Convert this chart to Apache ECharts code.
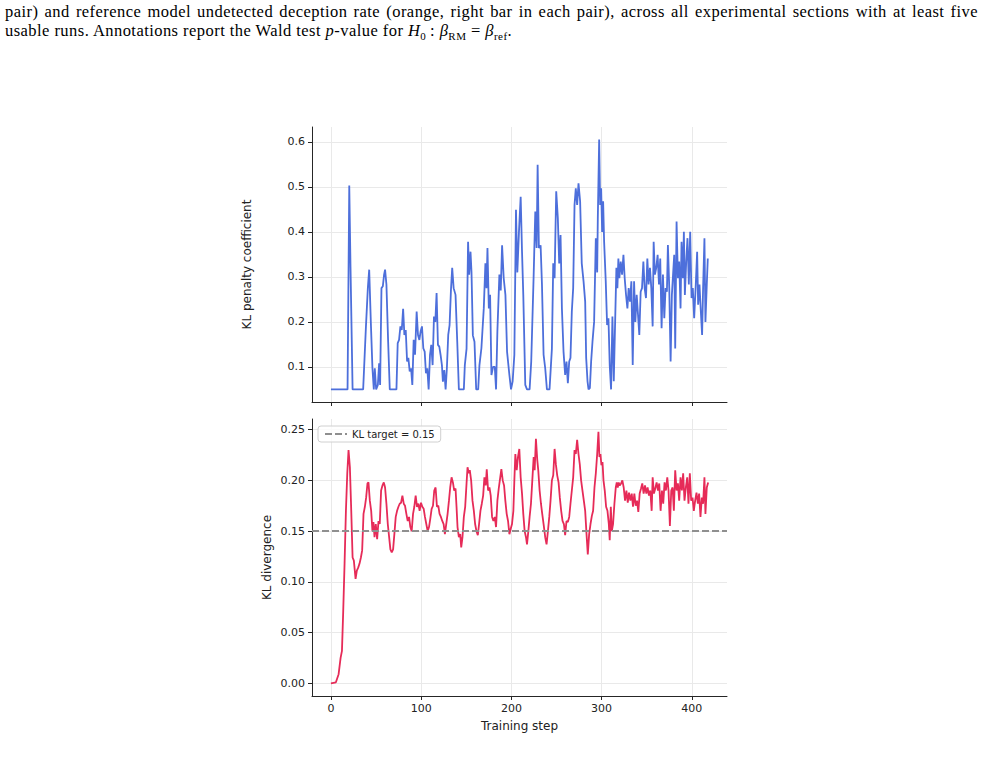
<!DOCTYPE html>
<html>
<head>
<meta charset="utf-8">
<script src="https://cdn.jsdelivr.net/npm/echarts@6/dist/echarts.min.js"></script>
<style>
  html, body { margin: 0; padding: 0; background: #fff; }
  #wrap { position: relative; width: 985px; height: 760px; overflow: hidden; }
  #chart { position: absolute; left: 0; top: 0; width: 985px; height: 760px; }
  #caption {
    position: absolute; left: 5px; top: 3px; width: 973px;
    font-family: "Liberation Serif", serif; font-size: 16.5px; line-height: 18.5px;
    letter-spacing: 0.45px; color: #000;
  }
  #caption .l1 { text-align: justify; text-align-last: justify; white-space: nowrap; }
  #caption sub { font-size: 11px; line-height: 0; }
</style>
</head>
<body>
<div id="wrap">
  <div id="chart"></div>
  <div id="caption">
    <div class="l1">pair) and reference model undetected deception rate (orange, right bar in each pair), across all experimental sections with at least five</div>
    <div>usable runs. Annotations report the Wald test <i>p</i>-value for <i>H</i><sub>0</sub>&thinsp;: <i>β</i><sub>RM</sub> = <i>β</i><sub>ref</sub>.</div>
  </div>
</div>
<script>
// KL penalty coefficient (top panel)
var coefStep = [0,18.4,20.3,21.7,24,35.7,38.7,40.9,42.4,44.2,46,47.5,48.6,50.1,52,53.4,54.5,56,57.5,58.9,60,61.5,63.4,65.2,72.6,74,75.5,77,78.5,80,81.4,82.9,84.4,85.8,87.3,88.8,90.2,91.7,93.2,95,96.5,98,99.4,100.9,102.4,103.9,105.3,106.8,108.3,109.8,111.2,112.7,114.2,115.7,117.1,118.6,120.1,121.5,123,124.1,125.6,127.1,128.5,130,131.5,133,134.4,136,138.1,140,141.8,147.3,148.4,150.3,152,153.2,154.7,155.8,157.3,159.1,161,163.2,164.6,166.8,169.4,171.2,172.4,173.5,175,176.4,177.9,179.7,181.6,183,184.5,186.7,188.2,189.7,191.5,193.4,195.2,197.8,199.6,201.4,203.3,205.1,206.6,208.4,210.3,211.8,213.2,215.4,217.3,220.2,222,224.6,226.5,228,229.1,230.5,232.4,233.9,235.7,237.5,239.4,242.3,244.9,246.4,247.9,249.7,251.5,253,254.5,256,257.8,259.6,261.1,262.6,264.1,265.5,267,268.5,270,271.4,272.9,274.4,276.2,278,280,281.8,282.9,284.4,285.5,287,288.4,289.9,291.7,293.6,295.1,295.8,297.3,298.4,299.5,300.6,301.7,302.8,304.6,306.1,307.6,309,310.5,312,313.5,315,316.4,317.5,318.6,319.7,321.2,322.7,324.2,325.6,327.1,328.6,330,331.5,333,334.5,336,337.4,338.9,340.4,341.8,343.3,344.8,346.3,347.7,349.2,350.7,352.1,353.6,355.1,356.6,357.7,359.1,360.6,362.1,363.6,365,366.5,368,369.5,370.9,372.4,373.5,375,376.5,377.9,379.4,380.5,381.6,383.1,384.6,386,387.5,388.6,390.1,391.2,392.3,393.8,395.2,396.7,398.2,399.7,401.1,402.6,404.4,405.9,407,408.5,410,411.4,412.5,414,415.1,416.6,417.7];
var coefValue = [0.05,0.05,0.503,0.32,0.05,0.05,0.186,0.275,0.316,0.2,0.097,0.05,0.097,0.05,0.06,0.108,0.06,0.275,0.279,0.305,0.316,0.283,0.156,0.05,0.05,0.153,0.16,0.19,0.182,0.229,0.171,0.182,0.112,0.12,0.09,0.097,0.06,0.16,0.127,0.223,0.171,0.16,0.179,0.19,0.141,0.134,0.086,0.097,0.05,0.127,0.149,0.104,0.212,0.2,0.264,0.149,0.145,0.127,0.104,0.067,0.093,0.05,0.097,0.171,0.193,0.27,0.32,0.275,0.26,0.156,0.05,0.05,0.104,0.14,0.378,0.305,0.356,0.31,0.17,0.156,0.05,0.05,0.104,0.142,0.23,0.33,0.275,0.364,0.23,0.26,0.082,0.1,0.1,0.05,0.18,0.305,0.27,0.37,0.297,0.26,0.134,0.082,0.05,0.068,0.127,0.449,0.31,0.4,0.478,0.356,0.26,0.06,0.05,0.05,0.112,0.297,0.445,0.364,0.549,0.364,0.37,0.283,0.127,0.097,0.05,0.05,0.14,0.33,0.297,0.49,0.43,0.33,0.393,0.23,0.134,0.082,0.112,0.064,0.112,0.12,0.223,0.275,0.46,0.497,0.46,0.508,0.468,0.33,0.29,0.245,0.12,0.068,0.05,0.053,0.112,0.156,0.2,0.386,0.31,0.43,0.605,0.46,0.497,0.4,0.468,0.378,0.29,0.193,0.208,0.104,0.05,0.212,0.068,0.2,0.32,0.275,0.341,0.297,0.334,0.305,0.349,0.297,0.26,0.23,0.275,0.245,0.29,0.104,0.29,0.2,0.26,0.215,0.171,0.267,0.275,0.334,0.275,0.253,0.341,0.283,0.32,0.275,0.19,0.378,0.305,0.32,0.349,0.283,0.341,0.186,0.305,0.208,0.275,0.267,0.371,0.275,0.112,0.26,0.312,0.349,0.141,0.423,0.297,0.334,0.23,0.378,0.297,0.4,0.26,0.334,0.386,0.283,0.4,0.253,0.275,0.208,0.283,0.356,0.238,0.283,0.223,0.171,0.275,0.386,0.2,0.283,0.341];

// KL divergence (bottom panel)
var divStep = [0,5.5,8.5,10.7,12.2,13.6,15.1,16.6,18.1,19.5,21,22.5,24,25.4,27.3,28.7,30.2,31.7,33.2,34.6,36.1,37.6,39,40.5,41.6,43.1,44.6,46,47.1,48.3,49.7,51.2,52.7,54.1,55.6,57.1,58.6,60,61.5,63,64.5,65.9,67.4,68.9,70.3,71.8,73.3,74.8,76.2,77.7,79.2,80.7,82.1,83.6,85.1,86.6,88,89.5,91,92.4,93.9,95.4,96.9,98.3,99.8,101.3,102.8,104.2,105.7,107.2,108.7,110.1,111.6,113.1,114.5,116,117.5,119,120.4,121.9,123.4,124.9,126.3,127.8,129.3,130.8,132.2,133.7,135.2,136.6,138.1,139.2,140.3,141.8,143.3,144.4,145.8,147.3,148.8,150.3,151.4,152.8,153.9,155.4,156.9,158.4,159.8,161.3,162.8,164.2,165.7,167.2,168.7,170.1,171.6,172.7,174.2,175.7,177.1,178.6,180.1,181.6,183,184.5,186,187.5,188.9,190.4,191.9,193.3,194.8,196.3,197.8,199.2,200.7,202.2,203.3,204.4,205.9,207.3,208.8,210.3,211.8,213.2,214.7,216.2,217.3,218.8,220.2,221.7,223.2,224.7,225.8,227.2,228.7,229.8,231.3,232.8,234.2,235.7,237.5,239,240.5,242,243.4,244.9,246.4,247.9,249.3,250.8,252.3,253.7,255.2,256.7,258.2,259.6,261.1,262.6,264.1,265.5,267,268.5,270,271.4,272.9,274.4,275.8,277.3,278.8,280.3,281.8,283.3,284.7,286.2,287.7,289.2,290.6,292.1,293.6,295.1,296.5,297.6,298.7,299.8,301,302.1,303.5,305,306.5,308,309,310.2,311.3,312.7,314.2,315.7,316.8,317.9,319,320.1,321.6,323,324.5,326,327.5,329,330.4,331.9,333.4,334.8,336.3,337.8,339.3,340.7,342.2,343.7,345.1,346.6,348.1,349.6,351,352.5,354,355.5,356.6,358,359.5,361,362.5,363.9,365.4,366.9,368.3,369.8,371.3,372.8,374.2,375.7,377.2,378.7,380.1,381.6,383.1,384.6,386,387.5,389,390.4,391.9,393.4,394.9,396.3,397.8,399.3,400.8,402.2,403.7,405.2,406.7,408.1,409.6,411.1,412.5,414,415.1,416.6,418.1];
var divValue = [0,0.001,0.009,0.025,0.032,0.071,0.118,0.17,0.207,0.23,0.213,0.17,0.124,0.121,0.103,0.111,0.114,0.118,0.124,0.131,0.167,0.174,0.183,0.197,0.198,0.18,0.17,0.15,0.159,0.144,0.157,0.142,0.16,0.157,0.19,0.195,0.198,0.193,0.177,0.157,0.144,0.132,0.129,0.132,0.147,0.164,0.17,0.174,0.177,0.178,0.185,0.177,0.175,0.167,0.16,0.164,0.154,0.15,0.167,0.174,0.185,0.174,0.177,0.17,0.178,0.174,0.172,0.164,0.157,0.15,0.154,0.162,0.172,0.175,0.19,0.193,0.174,0.175,0.167,0.164,0.16,0.157,0.147,0.157,0.167,0.18,0.193,0.203,0.198,0.19,0.192,0.174,0.154,0.144,0.147,0.134,0.144,0.164,0.174,0.197,0.213,0.207,0.21,0.2,0.18,0.17,0.157,0.15,0.146,0.157,0.17,0.177,0.185,0.203,0.195,0.211,0.19,0.193,0.185,0.164,0.16,0.164,0.154,0.18,0.192,0.202,0.211,0.2,0.195,0.18,0.167,0.16,0.147,0.152,0.157,0.17,0.2,0.226,0.21,0.223,0.231,0.203,0.187,0.167,0.15,0.144,0.137,0.15,0.164,0.177,0.2,0.223,0.21,0.241,0.22,0.21,0.19,0.177,0.167,0.157,0.144,0.137,0.15,0.164,0.18,0.2,0.205,0.231,0.216,0.205,0.198,0.183,0.17,0.16,0.157,0.146,0.16,0.159,0.164,0.177,0.19,0.203,0.23,0.226,0.24,0.226,0.216,0.2,0.19,0.18,0.17,0.147,0.127,0.147,0.157,0.165,0.17,0.193,0.207,0.226,0.248,0.223,0.226,0.215,0.218,0.2,0.19,0.174,0.17,0.157,0.141,0.174,0.15,0.157,0.177,0.193,0.198,0.193,0.198,0.195,0.197,0.2,0.193,0.18,0.19,0.178,0.188,0.18,0.187,0.174,0.187,0.175,0.18,0.169,0.187,0.192,0.197,0.187,0.195,0.187,0.193,0.185,0.19,0.17,0.203,0.187,0.192,0.198,0.19,0.197,0.17,0.19,0.177,0.198,0.19,0.203,0.19,0.155,0.19,0.193,0.17,0.21,0.19,0.197,0.18,0.203,0.19,0.207,0.18,0.193,0.203,0.177,0.207,0.18,0.183,0.17,0.18,0.188,0.177,0.187,0.164,0.183,0.177,0.203,0.167,0.193,0.198];

var klTarget = 0.15;
var stepTicks = [0, 100, 200, 300, 400];
var coefTicks = [0.1, 0.2, 0.3, 0.4, 0.5, 0.6];
var divTicks = [0, 0.05, 0.1, 0.15, 0.2, 0.25];

function zip(xs, ys){
	return xs.map(function(x, i){ return [x, ys[i]]; });
}

var AXIS_COLOR = '#262626';
var GRID_COLOR = '#e9e9e9';

function xAxisCfg(gridIndex, showLabels){
	return {
		type: 'value',
		gridIndex: gridIndex,
		min: -21,
		max: 439,
		axisLine: { show: true, onZero: false, lineStyle: { color: AXIS_COLOR, width: 1 } },
		axisTick: { show: true, length: 4, customValues: stepTicks, lineStyle: { color: AXIS_COLOR } },
		axisLabel: {
			show: showLabels,
			customValues: stepTicks,
			color: '#222',
			fontSize: 11,
			fontFamily: 'DejaVu Sans',
			margin: 7
		},
		splitLine: { show: true, lineStyle: { color: GRID_COLOR, width: 1 } },
		name: showLabels ? 'Training step' : '',
		nameLocation: 'middle',
		nameGap: 24,
		nameTextStyle: { color: '#222', fontSize: 12, fontFamily: 'DejaVu Sans' }
	};
}

function yAxisCfg(gridIndex, min, max, ticks, name, gap){
	return {
		type: 'value',
		gridIndex: gridIndex,
		min: min,
		max: max,
		axisLine: { show: true, onZero: false, lineStyle: { color: AXIS_COLOR, width: 1 } },
		axisTick: { show: true, length: 4, customValues: ticks, lineStyle: { color: AXIS_COLOR } },
		axisLabel: {
			customValues: ticks,
			color: '#222',
			fontSize: 11,
			fontFamily: 'DejaVu Sans',
			margin: 7,
			formatter: function(v){ return v.toFixed(gridIndex === 0 ? 1 : 2); }
		},
		splitLine: { show: true, lineStyle: { color: GRID_COLOR, width: 1 } },
		name: name,
		nameLocation: 'middle',
		nameGap: gap,
		nameTextStyle: { color: '#222', fontSize: 12, fontFamily: 'DejaVu Sans' }
	};
}

var myChart = echarts.init(document.getElementById('chart'), null, { renderer: 'svg' });
myChart.setOption({
	animation: false,
	backgroundColor: '#fff',
	grid: [
		{ left: 312, top: 127, width: 415, height: 275 },
		{ left: 312, top: 419, width: 415, height: 277 }
	],
	legend: {
		data: ['KL target = 0.15'],
		left: 318,
		top: 426,
		itemWidth: 22,
		itemHeight: 10,
		itemGap: 6,
		padding: [3, 6],
		borderColor: '#d0d0d0',
		borderWidth: 1,
		borderRadius: 3,
		backgroundColor: 'rgba(255,255,255,0.8)',
		itemStyle: { opacity: 0 },
		textStyle: { color: '#222', fontSize: 10, fontFamily: 'DejaVu Sans' }
	},
	xAxis: [ xAxisCfg(0, false), xAxisCfg(1, true) ],
	yAxis: [
		yAxisCfg(0, 0.022, 0.633, coefTicks, 'KL penalty coefficient', 59),
		yAxisCfg(1, -0.0125, 0.2605, divTicks, 'KL divergence', 39)
	],
	series: [
		{
			name: 'KL penalty coefficient',
			type: 'line',
			xAxisIndex: 0,
			yAxisIndex: 0,
			symbol: 'none',
			lineStyle: { color: '#4d6fdb', width: 1.8 },
			itemStyle: { color: '#4d6fdb' },
			data: zip(coefStep, coefValue)
		},
		{
			name: 'KL divergence',
			type: 'line',
			xAxisIndex: 1,
			yAxisIndex: 1,
			symbol: 'none',
			lineStyle: { color: '#e62b58', width: 1.8 },
			itemStyle: { color: '#e62b58' },
			data: zip(divStep, divValue)
		},
		{
			name: 'KL target = 0.15',
			type: 'line',
			xAxisIndex: 1,
			yAxisIndex: 1,
			symbol: 'none',
			symbolSize: 0,
			lineStyle: { color: '#8f8f8f', width: 1.8, type: [7, 3] },
			itemStyle: { color: '#8f8f8f' },
			data: [],
			markLine: {
				silent: true,
				symbol: 'none',
				label: { show: false },
				lineStyle: { color: '#8f8f8f', width: 1.8, type: [7, 3] },
				data: [ { yAxis: klTarget } ]
			}
		}
	]
});
</script>
</body>
</html>
